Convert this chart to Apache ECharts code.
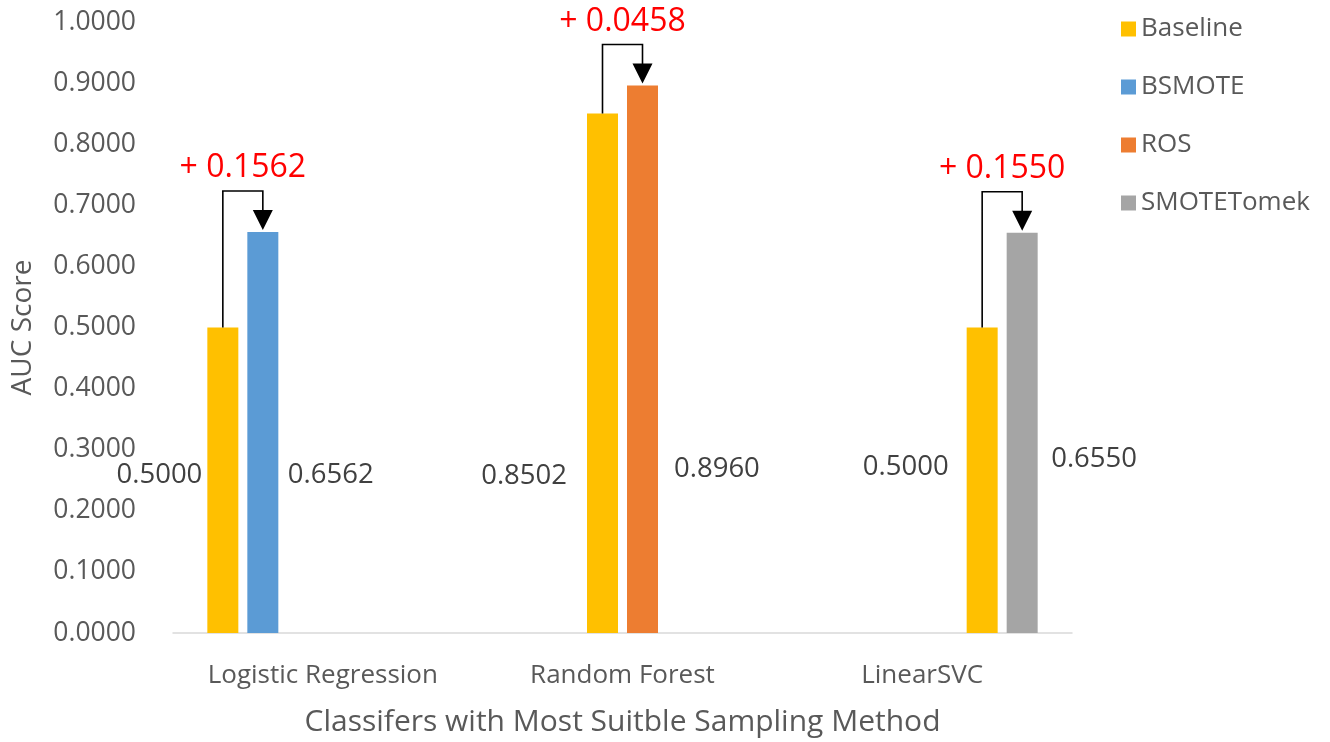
<!DOCTYPE html>
<html>
<head>
<meta charset="utf-8">
<script src="https://cdn.jsdelivr.net/npm/echarts@6/dist/echarts.min.js"></script>
<style>html,body{margin:0;padding:0;background:#fff;}#c{width:1330px;height:742px;}</style>
</head>
<body>
<div id="c"></div>
<script>
// ---- data ----
var categories = ['Logistic Regression', 'Random Forest', 'LinearSVC'];
var baselineAUC = [0.5000, 0.8502, 0.5000];
var bestMethod = ['BSMOTE', 'ROS', 'SMOTETomek'];
var bestAUC = [0.6562, 0.8960, 0.6550];
var legendNames = ['Baseline', 'BSMOTE', 'ROS', 'SMOTETomek'];
var yTicks = { min: 0, max: 1, interval: 0.1 };

// ---- style ----
var COLORS = { Baseline: '#FFC000', BSMOTE: '#5B9BD5', ROS: '#ED7D31', SMOTETomek: '#A5A5A5' };
var FONT = '"Open Sans", "DejaVu Sans", sans-serif';
var BAR_W = 31, GAP = 9, PITCH = BAR_W + GAP, NSLOT = 6;
// per-category data-label placement (gap from bar edge in px, vertical level in axis units)
var labelStyle = [
  { baseGap: 5,  baseLevel: 0.259, bestGap: 9.5, bestLevel: 0.259 },
  { baseGap: 20, baseLevel: 0.257, bestGap: 16,  bestLevel: 0.268 },
  { baseGap: 18, baseLevel: 0.272, bestGap: 13.5, bestLevel: 0.285 }
];

var series = [];
categories.forEach(function (c, i) {
  series.push({
    name: 'Baseline', type: 'bar', barWidth: BAR_W, barGap: (GAP / BAR_W * 100) + '%',
    itemStyle: { color: COLORS.Baseline },
    data: categories.map(function (_, j) { return j === i ? baselineAUC[i] : '-'; })
  });
  series.push({
    name: bestMethod[i], type: 'bar', barWidth: BAR_W, barGap: (GAP / BAR_W * 100) + '%',
    itemStyle: { color: COLORS[bestMethod[i]] },
    data: categories.map(function (_, j) { return j === i ? bestAUC[i] : '-'; })
  });
});

series.push({
  name: 'annotations', type: 'custom', silent: true, clip: false, z: 10,
  encode: { x: 0, y: [1, 2] },
  data: categories.map(function (c, i) { return [i, baselineAUC[i], bestAUC[i]]; }),
  renderItem: function (params, api) {
    var i = api.value(0), b = api.value(1), v = api.value(2);
    var cx = api.coord([i, 0])[0];
    var xB = cx + (2 * i - (NSLOT - 1) / 2) * PITCH;
    var xV = cx + (2 * i + 1 - (NSLOT - 1) / 2) * PITCH;
    var yB = api.coord([i, b])[1];
    var yV = api.coord([i, v])[1];
    var yTop = Math.min(yB, yV) - 41;
    var ah = 20, aw = 20;
    var tipY = yV - 2;
    var ls = labelStyle[i];
    var children = [
      { type: 'polyline', shape: { points: [[xB, yB], [xB, yTop], [xV, yTop], [xV, tipY - ah + 1]] },
        style: { stroke: '#000', lineWidth: 1.6, fill: null } },
      { type: 'polygon', shape: { points: [[xV - aw / 2, tipY - ah], [xV + aw / 2, tipY - ah], [xV, tipY]] },
        style: { fill: '#000' } },
      { type: 'text', x: (xB + xV) / 2, y: yTop - 23,
        style: { text: '+ ' + (v - b).toFixed(4), fill: '#FF0000', font: '32px ' + FONT, align: 'center', verticalAlign: 'middle' } },
      { type: 'text', x: xB - BAR_W / 2 - ls.baseGap, y: api.coord([i, ls.baseLevel])[1],
        style: { text: b.toFixed(4), fill: '#404040', font: '27.5px ' + FONT, align: 'right', verticalAlign: 'middle' } },
      { type: 'text', x: xV + BAR_W / 2 + ls.bestGap, y: api.coord([i, ls.bestLevel])[1],
        style: { text: v.toFixed(4), fill: '#404040', font: '27.5px ' + FONT, align: 'left', verticalAlign: 'middle' } }
    ];
    return { type: 'group', children: children };
  }
});

var chart = echarts.init(document.getElementById('c'));
chart.setOption({
  animation: false,
  backgroundColor: '#fff',
  textStyle: { fontFamily: FONT },
  grid: { left: 173, right: 258, top: 22, bottom: 109, containLabel: false },
  legend: {
    data: legendNames, orient: 'vertical', left: 1116, top: 11,
    itemWidth: 15, itemHeight: 15, itemGap: 32, icon: 'rect',
    textStyle: { fontSize: 26, color: '#595959', fontFamily: FONT, lineHeight: 26 },
    selectedMode: false
  },
  xAxis: {
    type: 'category', data: categories,
    axisTick: { show: false },
    axisLine: { lineStyle: { color: '#D9D9D9', width: 1.5 } },
    axisLabel: { margin: 30, fontSize: 26, color: '#595959', fontFamily: FONT },
    name: 'Classifers with Most Suitble Sampling Method', nameLocation: 'middle', nameGap: 74,
    nameTextStyle: { fontSize: 30, color: '#595959', fontFamily: FONT }
  },
  yAxis: {
    type: 'value', min: yTicks.min, max: yTicks.max, interval: yTicks.interval,
    splitLine: { show: false }, axisLine: { show: false }, axisTick: { show: false },
    axisLabel: { margin: 37, fontSize: 26.5, color: '#595959', fontFamily: FONT,
      formatter: function (v) { return v.toFixed(4); } },
    name: 'AUC Score', nameLocation: 'middle', nameGap: 136, nameRotate: 90,
    nameTextStyle: { fontSize: 28, color: '#595959', fontFamily: FONT }
  },
  series: series
});
</script>
</body>
</html>
